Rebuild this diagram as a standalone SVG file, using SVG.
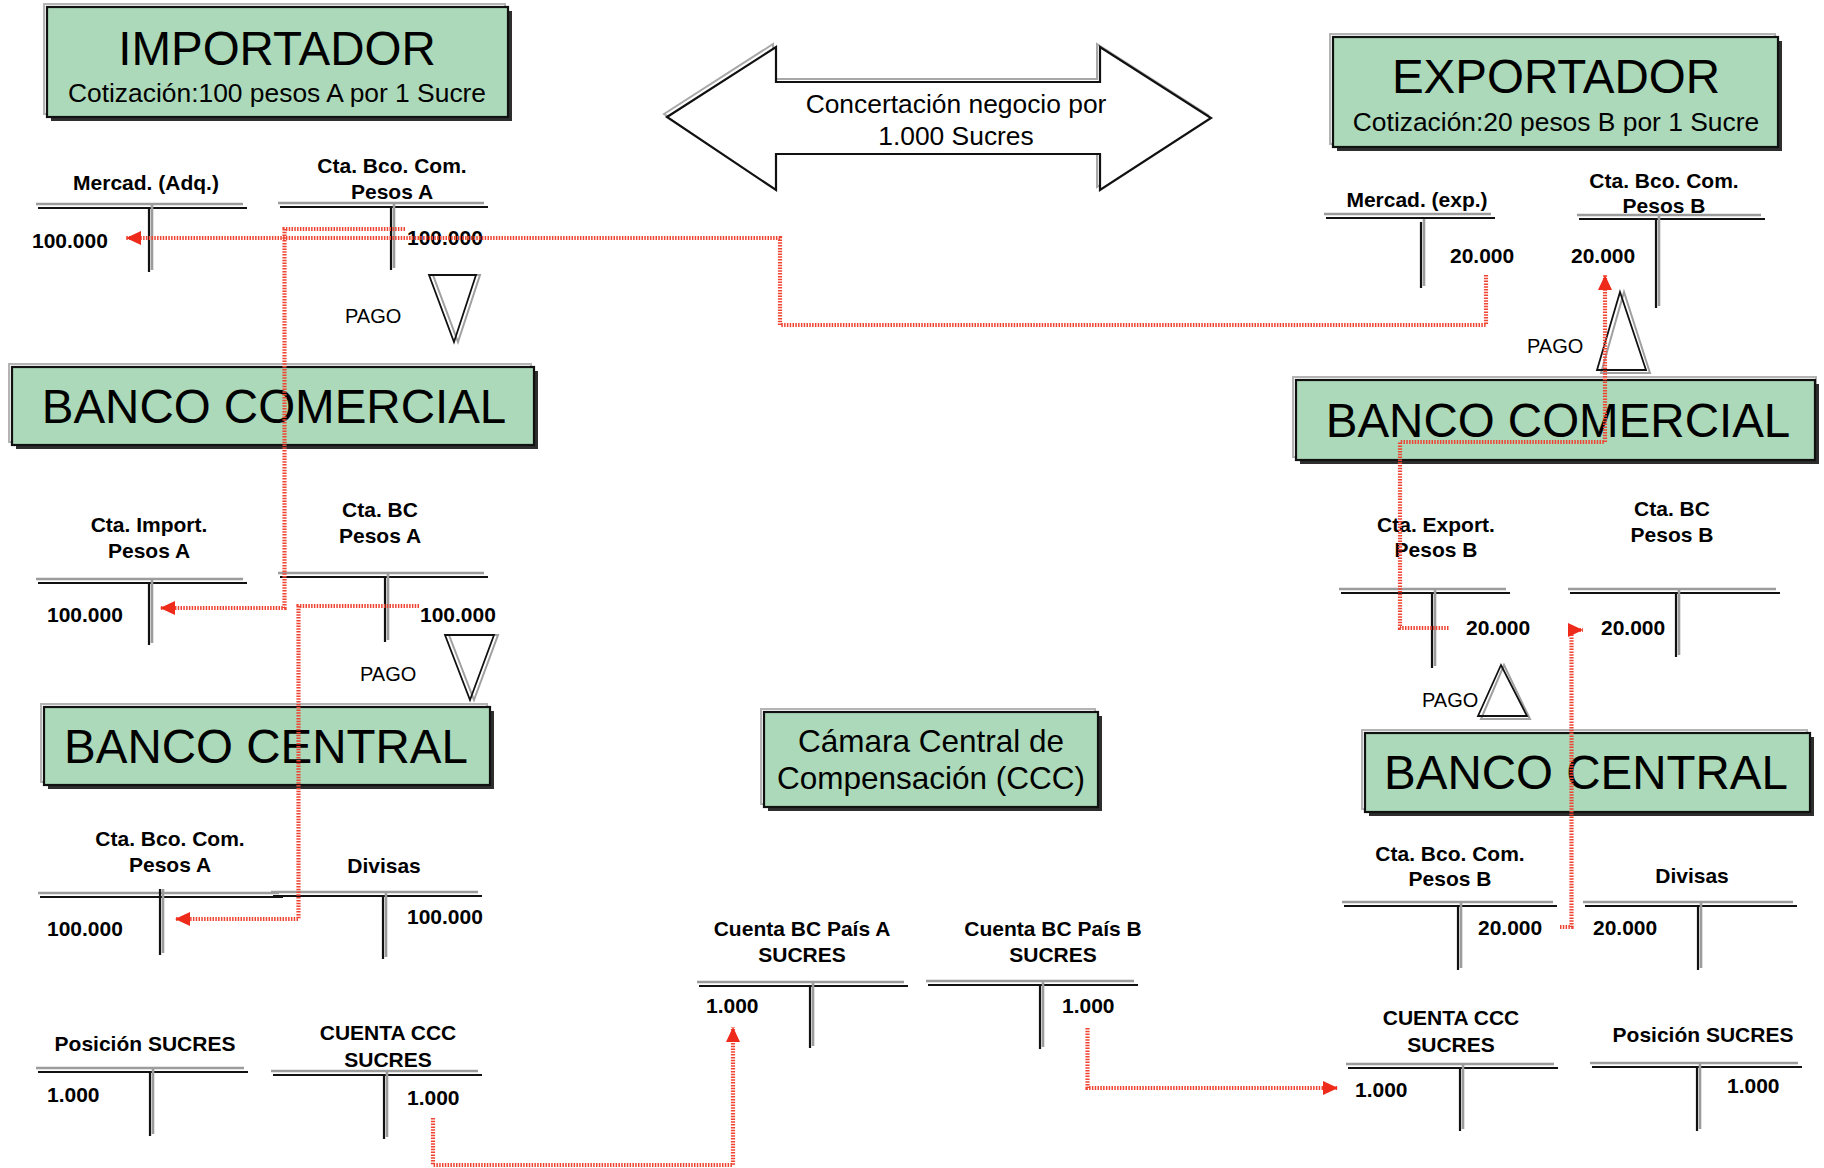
<svg xmlns="http://www.w3.org/2000/svg" width="1824" height="1168" viewBox="0 0 1824 1168">
<style>
text{font-family:"Liberation Sans",Arial,sans-serif;fill:#000}
.bx{fill:#abd9b9;stroke:#111;stroke-width:2.2}
.sh{fill:#2e2e2e}
.hl{fill:none;stroke:#b4b4b4;stroke-width:2}
.ttl{font-size:47.5px;text-anchor:middle}
.sub{font-size:26.4px;text-anchor:middle}
.ccc{font-size:31.5px;text-anchor:middle}
.lbl{font-size:21px;font-weight:bold;text-anchor:middle}
.val{font-size:21px;font-weight:bold}
.pago{font-size:20px}
.tb{stroke:#111;stroke-width:2.2}
.tg{stroke:#9c9c9c;stroke-width:2.6}
.tri{fill:none;stroke:#111;stroke-width:1.8}
.trig{fill:none;stroke:#a0a0a0;stroke-width:2}
.flow{fill:none;stroke:#ef4432;stroke-width:4.2;stroke-dasharray:1.5 1.3}
</style>
<defs>
<marker id="ah" markerUnits="userSpaceOnUse" markerWidth="16" markerHeight="14" refX="15" refY="7" orient="auto">
<path d="M0,0 L15,7 L0,14 z" fill="#ee2a1a"/>
</marker>
</defs>
<rect width="1824" height="1168" fill="#fff"/>

<!-- Boxes -->
<g id="importador">
<rect x="44" y="4" width="461" height="110" class="hl"/>
<rect x="51" y="11" width="461" height="110" class="sh"/>
<rect x="47" y="7" width="461" height="110" class="bx"/>
<text x="277" y="65" class="ttl">IMPORTADOR</text>
<text x="277" y="102" class="sub">Cotización:100 pesos A por 1 Sucre</text>
</g>
<g id="exportador">
<rect x="1330" y="34" width="445" height="110" class="hl"/>
<rect x="1337" y="41" width="445" height="110" class="sh"/>
<rect x="1333" y="37" width="445" height="110" class="bx"/>
<text x="1556" y="93" class="ttl">EXPORTADOR</text>
<text x="1556" y="131" class="sub">Cotización:20 pesos B por 1 Sucre</text>
</g>
<g id="banco-comercial-a">
<rect x="9" y="364" width="522" height="78" class="hl"/>
<rect x="16" y="371" width="522" height="78" class="sh"/>
<rect x="12" y="367" width="522" height="78" class="bx"/>
<text x="274" y="423" class="ttl">BANCO COMERCIAL</text>
</g>
<g id="banco-central-a">
<rect x="41" y="704" width="446" height="78" class="hl"/>
<rect x="48" y="711" width="446" height="78" class="sh"/>
<rect x="44" y="707" width="446" height="78" class="bx"/>
<text x="266" y="763" class="ttl">BANCO CENTRAL</text>
</g>
<g id="banco-comercial-b">
<rect x="1293" y="377" width="523" height="80" class="hl"/>
<rect x="1300" y="384" width="519" height="80" class="sh"/>
<rect x="1296" y="380" width="519" height="80" class="bx"/>
<text x="1558" y="437" class="ttl">BANCO COMERCIAL</text>
</g>
<g id="banco-central-b">
<rect x="1362" y="730" width="445" height="79" class="hl"/>
<rect x="1369" y="737" width="445" height="79" class="sh"/>
<rect x="1365" y="733" width="445" height="79" class="bx"/>
<text x="1586" y="789" class="ttl">BANCO CENTRAL</text>
</g>
<g id="ccc">
<rect x="761" y="709" width="334" height="95" class="hl"/>
<rect x="768" y="716" width="334" height="95" class="sh"/>
<rect x="764" y="712" width="334" height="95" class="bx"/>
<text x="931" y="752" class="ccc">Cámara Central de</text>
<text x="931" y="789" class="ccc">Compensación (CCC)</text>
</g>

<!-- Double arrow -->
<g id="concertacion">
<polygon points="664,114 773,44 773,79 1097,79 1097,44 1208,115 1097,187 1097,151 773,151 773,187" fill="none" stroke="#a8a8a8" stroke-width="2"/>
<polygon points="667,117 776,47 776,82 1100,82 1100,47 1211,118 1100,190 1100,154 776,154 776,190" fill="#fff" stroke="#111" stroke-width="2.2"/>
<text x="956" y="113" class="sub">Concertación negocio por</text>
<text x="956" y="145" class="sub">1.000 Sucres</text>
</g>

<!-- PAGO triangles -->
<g id="pago-1">
<polygon points="433,275 480,275 458,342" class="trig"/>
<polygon points="429,275 476,275 454,342" class="tri"/>
<text x="345" y="323" class="pago">PAGO</text>
</g>
<g id="pago-2">
<polygon points="449,635 498,635 474,700" class="trig"/>
<polygon points="445,635 494,635 470,700" class="tri"/>
<text x="360" y="681" class="pago">PAGO</text>
</g>
<g id="pago-3">
<polygon points="1624,292 1601,373 1650,373" class="trig"/>
<polygon points="1620,292 1597,370 1646,370" class="tri"/>
<text x="1527" y="353" class="pago">PAGO</text>
</g>
<g id="pago-4">
<polygon points="1504,665 1481,719 1530,719" class="trig"/>
<polygon points="1501,665 1478,716 1527,716" class="tri"/>
<text x="1422" y="707" class="pago">PAGO</text>
</g>

<!-- T accounts -->
<g id="t-mercad-adq">
<line x1="36" y1="204" x2="243" y2="204" class="tg"/><line x1="38" y1="208" x2="247" y2="208" class="tb"/>
<line x1="152" y1="205" x2="152" y2="270" class="tg"/><line x1="149" y1="208" x2="149" y2="272" class="tb"/>
<text x="146" y="190" class="lbl">Mercad. (Adq.)</text>
<text x="32" y="248" class="val">100.000</text>
</g>
<g id="t-ctabco-a">
<line x1="278" y1="203" x2="484" y2="203" class="tg"/><line x1="280" y1="207" x2="488" y2="207" class="tb"/>
<line x1="394" y1="204" x2="394" y2="268" class="tg"/><line x1="391" y1="207" x2="391" y2="270" class="tb"/>
<text x="392" y="173" class="lbl">Cta. Bco. Com.</text>
<text x="392" y="199" class="lbl">Pesos A</text>
<text x="407" y="245" class="val">100.000</text>
</g>
<g id="t-ctaimport-a">
<line x1="36" y1="579" x2="243" y2="579" class="tg"/><line x1="38" y1="583" x2="247" y2="583" class="tb"/>
<line x1="152" y1="580" x2="152" y2="643" class="tg"/><line x1="149" y1="583" x2="149" y2="645" class="tb"/>
<text x="149" y="532" class="lbl">Cta. Import.</text>
<text x="149" y="558" class="lbl">Pesos A</text>
<text x="47" y="622" class="val">100.000</text>
</g>
<g id="t-ctabc-a">
<line x1="278" y1="573" x2="484" y2="573" class="tg"/><line x1="280" y1="577" x2="488" y2="577" class="tb"/>
<line x1="388" y1="574" x2="388" y2="640" class="tg"/><line x1="385" y1="577" x2="385" y2="642" class="tb"/>
<text x="380" y="517" class="lbl">Cta. BC</text>
<text x="380" y="543" class="lbl">Pesos A</text>
<text x="420" y="622" class="val">100.000</text>
</g>
<g id="t-bc-ctabco-a">
<line x1="38" y1="893" x2="279" y2="893" class="tg"/><line x1="40" y1="897" x2="283" y2="897" class="tb"/>
<line x1="163" y1="889" x2="163" y2="953" class="tg"/><line x1="160" y1="889" x2="160" y2="955" class="tb"/>
<text x="170" y="846" class="lbl">Cta. Bco. Com.</text>
<text x="170" y="872" class="lbl">Pesos A</text>
<text x="47" y="936" class="val">100.000</text>
</g>
<g id="t-divisas-a">
<line x1="271" y1="892" x2="478" y2="892" class="tg"/><line x1="273" y1="896" x2="482" y2="896" class="tb"/>
<line x1="386" y1="893" x2="386" y2="957" class="tg"/><line x1="383" y1="896" x2="383" y2="959" class="tb"/>
<text x="384" y="873" class="lbl">Divisas</text>
<text x="407" y="924" class="val">100.000</text>
</g>
<g id="t-posicion-a">
<line x1="36" y1="1068" x2="244" y2="1068" class="tg"/><line x1="38" y1="1072" x2="248" y2="1072" class="tb"/>
<line x1="153" y1="1069" x2="153" y2="1134" class="tg"/><line x1="150" y1="1072" x2="150" y2="1136" class="tb"/>
<text x="145" y="1051" class="lbl">Posición SUCRES</text>
<text x="47" y="1102" class="val">1.000</text>
</g>
<g id="t-cuentaccc-a">
<line x1="271" y1="1071" x2="478" y2="1071" class="tg"/><line x1="273" y1="1075" x2="482" y2="1075" class="tb"/>
<line x1="387" y1="1072" x2="387" y2="1137" class="tg"/><line x1="384" y1="1075" x2="384" y2="1139" class="tb"/>
<text x="388" y="1040" class="lbl">CUENTA CCC</text>
<text x="388" y="1067" class="lbl">SUCRES</text>
<text x="407" y="1105" class="val">1.000</text>
</g>
<g id="t-bcpais-a">
<line x1="697" y1="982" x2="904" y2="982" class="tg"/><line x1="699" y1="986" x2="908" y2="986" class="tb"/>
<line x1="813" y1="983" x2="813" y2="1046" class="tg"/><line x1="810" y1="986" x2="810" y2="1048" class="tb"/>
<text x="802" y="936" class="lbl">Cuenta BC País A</text>
<text x="802" y="962" class="lbl">SUCRES</text>
<text x="706" y="1013" class="val">1.000</text>
</g>
<g id="t-bcpais-b">
<line x1="926" y1="981" x2="1134" y2="981" class="tg"/><line x1="928" y1="985" x2="1138" y2="985" class="tb"/>
<line x1="1043" y1="982" x2="1043" y2="1047" class="tg"/><line x1="1040" y1="985" x2="1040" y2="1049" class="tb"/>
<text x="1053" y="936" class="lbl">Cuenta BC País B</text>
<text x="1053" y="962" class="lbl">SUCRES</text>
<text x="1062" y="1013" class="val">1.000</text>
</g>
<g id="t-mercad-exp">
<line x1="1324" y1="214" x2="1491" y2="214" class="tg"/><line x1="1326" y1="218" x2="1495" y2="218" class="tb"/>
<line x1="1424" y1="219" x2="1424" y2="286" class="tg"/><line x1="1421" y1="222" x2="1421" y2="288" class="tb"/>
<text x="1417" y="207" class="lbl">Mercad. (exp.)</text>
<text x="1450" y="263" class="val">20.000</text>
</g>
<g id="t-ctabco-b">
<line x1="1577" y1="215" x2="1761" y2="215" class="tg"/><line x1="1579" y1="219" x2="1765" y2="219" class="tb"/>
<line x1="1659" y1="216" x2="1659" y2="306" class="tg"/><line x1="1656" y1="219" x2="1656" y2="308" class="tb"/>
<text x="1664" y="188" class="lbl">Cta. Bco. Com.</text>
<text x="1664" y="213" class="lbl">Pesos B</text>
<text x="1571" y="263" class="val">20.000</text>
</g>
<g id="t-ctaexport-b">
<line x1="1339" y1="589" x2="1506" y2="589" class="tg"/><line x1="1341" y1="593" x2="1510" y2="593" class="tb"/>
<line x1="1435" y1="590" x2="1435" y2="666" class="tg"/><line x1="1432" y1="593" x2="1432" y2="668" class="tb"/>
<text x="1436" y="532" class="lbl">Cta. Export.</text>
<text x="1436" y="557" class="lbl">Pesos B</text>
<text x="1466" y="635" class="val">20.000</text>
</g>
<g id="t-ctabc-b">
<line x1="1568" y1="589" x2="1776" y2="589" class="tg"/><line x1="1570" y1="593" x2="1780" y2="593" class="tb"/>
<line x1="1679" y1="590" x2="1679" y2="655" class="tg"/><line x1="1676" y1="593" x2="1676" y2="657" class="tb"/>
<text x="1672" y="516" class="lbl">Cta. BC</text>
<text x="1672" y="542" class="lbl">Pesos B</text>
<text x="1601" y="635" class="val">20.000</text>
</g>
<g id="t-bc-ctabco-b">
<line x1="1342" y1="902" x2="1553" y2="902" class="tg"/><line x1="1344" y1="906" x2="1557" y2="906" class="tb"/>
<line x1="1461" y1="903" x2="1461" y2="968" class="tg"/><line x1="1458" y1="906" x2="1458" y2="970" class="tb"/>
<text x="1450" y="861" class="lbl">Cta. Bco. Com.</text>
<text x="1450" y="886" class="lbl">Pesos B</text>
<text x="1478" y="935" class="val">20.000</text>
</g>
<g id="t-divisas-b">
<line x1="1583" y1="902" x2="1793" y2="902" class="tg"/><line x1="1585" y1="906" x2="1797" y2="906" class="tb"/>
<line x1="1701" y1="903" x2="1701" y2="968" class="tg"/><line x1="1698" y1="906" x2="1698" y2="970" class="tb"/>
<text x="1692" y="883" class="lbl">Divisas</text>
<text x="1593" y="935" class="val">20.000</text>
</g>
<g id="t-cuentaccc-b">
<line x1="1346" y1="1064" x2="1554" y2="1064" class="tg"/><line x1="1348" y1="1068" x2="1558" y2="1068" class="tb"/>
<line x1="1463" y1="1065" x2="1463" y2="1129" class="tg"/><line x1="1460" y1="1068" x2="1460" y2="1131" class="tb"/>
<text x="1451" y="1025" class="lbl">CUENTA CCC</text>
<text x="1451" y="1052" class="lbl">SUCRES</text>
<text x="1355" y="1097" class="val">1.000</text>
</g>
<g id="t-posicion-b">
<line x1="1590" y1="1063" x2="1798" y2="1063" class="tg"/><line x1="1592" y1="1067" x2="1802" y2="1067" class="tb"/>
<line x1="1700" y1="1064" x2="1700" y2="1129" class="tg"/><line x1="1697" y1="1067" x2="1697" y2="1131" class="tb"/>
<text x="1703" y="1042" class="lbl">Posición SUCRES</text>
<text x="1727" y="1093" class="val">1.000</text>
</g>

<!-- Connectors -->
<g id="connectors">
<path class="flow" d="M1486,275 V325 H780 V238 H126" marker-end="url(#ah)"/>
<path class="flow" d="M405,229 H284.5 V608 H160" marker-end="url(#ah)"/>
<path class="flow" d="M419,606 H298.5 V919 H175" marker-end="url(#ah)"/>
<path class="flow" d="M433,1118 V1165 H733 V1027" marker-end="url(#ah)"/>
<path class="flow" d="M1087.5,1028 V1088 H1338" marker-end="url(#ah)"/>
<path class="flow" d="M1560,927 H1571.5 V630 H1583" marker-end="url(#ah)"/>
<path class="flow" d="M1448.5,628 H1400 V442 H1605 V275" marker-end="url(#ah)"/>
</g>
</svg>
